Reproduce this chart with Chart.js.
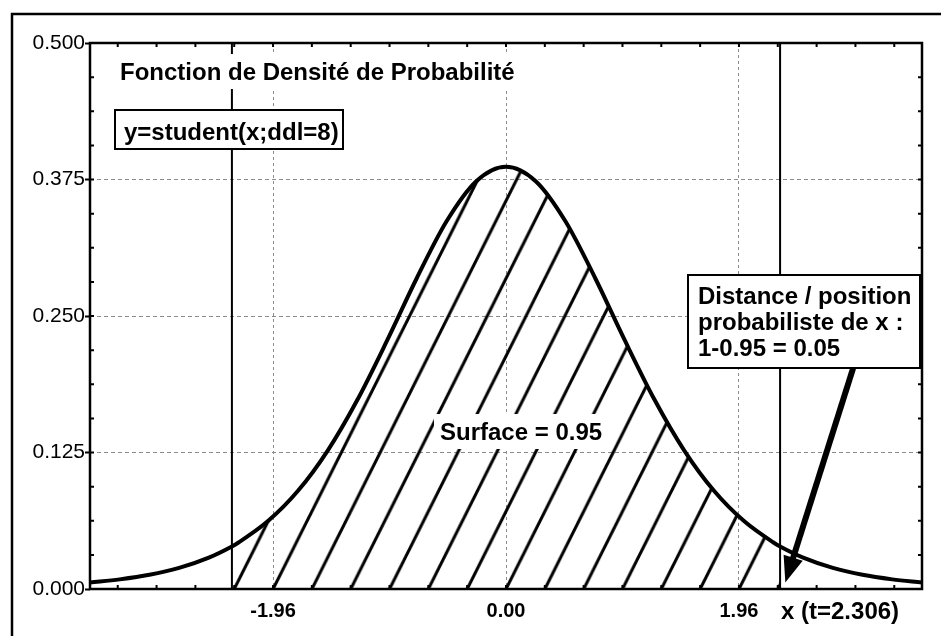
<!DOCTYPE html>
<html><head><meta charset="utf-8">
<script src="https://cdn.jsdelivr.net/npm/chart.js@4/dist/chart.umd.min.js"></script>
<style>html,body{margin:0;padding:0;background:#fff;}#wrap{width:941px;height:636px;}</style>
</head><body><div id="wrap"><canvas id="c" width="941" height="636"></canvas></div>
<script>
// ---- data ----
const curveX = [-3.5,-3.25,-3,-2.75,-2.5,-2.306,-2.25,-2,-1.75,-1.5,-1.25,-1,-0.75,-0.5,-0.25,0,0.25,0.5,0.75,1,1.25,1.5,1.75,2,2.25,2.306,2.5,2.75,3,3.25,3.5];
const curveY = [0.0059,0.0088,0.0130,0.0194,0.0288,0.0390,0.0426,0.0624,0.0899,0.1268,0.1733,0.2276,0.2848,0.3367,0.3734,0.3867,0.3734,0.3367,0.2848,0.2276,0.1733,0.1268,0.0899,0.0624,0.0426,0.0390,0.0288,0.0194,0.0130,0.0088,0.0059];
const criticalT = [-2.306, 2.306];
const xTickValues = [-1.96, 0, 1.96];
const yTickValues = [0, 0.125, 0.25, 0.375, 0.5];
const xRange = [-3.5, 3.5];
const yRange = [0, 0.5];
const arrowFrom = [2.92, 0.202];
const arrowTo = [2.35, 0.006];

const titleText = 'Fonction de Densité de Probabilité';
const formulaText = 'y=student(x;ddl=8)';
const surfaceText = 'Surface = 0.95';
const noteLines = ['Distance / position', 'probabiliste de x :', '1-0.95 = 0.05'];
const xAxisText = 'x (t=2.306)';

// ---- styling ----
const FONT = '"Liberation Sans", Arial, sans-serif';
const hatchStep = 1.96 / 6;
const xMinorStep = 1.96 / 6;
const yMinorStep = 0.125 / 4;

const pts = (xs, ys) => xs.map((v, i) => ({x: v, y: ys[i]}));
const curvePts = pts(curveX, curveY);
const hatchPts = curvePts.filter(p => p.x >= criticalT[0] - 1e-9 && p.x <= criticalT[1] + 1e-9);

function hatchPattern(chart) {
  const xs = chart.scales.x, ys = chart.scales.y;
  if (!chart.chartArea || !xs || !ys) return 'rgba(0,0,0,0)';
  const x0 = xs.getPixelForValue(0), y0 = ys.getPixelForValue(0);
  const sp = xs.getPixelForValue(hatchStep) - x0;
  if (!isFinite(sp) || sp <= 0) return 'rgba(0,0,0,0)';
  const W = 40, H = 80;
  const c = document.createElement('canvas'); c.width = W; c.height = H;
  const g = c.getContext('2d');
  g.strokeStyle = '#000'; g.lineWidth = 3.1;
  for (const k of [-1, 0, 1]) { g.beginPath(); g.moveTo(-2, H + k * H + 4); g.lineTo(W + 2, k * H - 4); g.stroke(); }
  const p = chart.ctx.createPattern(c, 'repeat');
  const s = sp / W;
  p.setTransform(new DOMMatrix().translate(x0, y0 - H * s).scale(s));
  return p;
}

function boxText(ctx, lines, x, y0, lh) {
  lines.forEach((t, i) => ctx.fillText(t, x, y0 + i * lh));
}

const decor = {
  id: 'decor',
  beforeDraw(chart) {
    const ctx = chart.ctx;
    ctx.save();
    ctx.fillStyle = '#fff'; ctx.fillRect(0, 0, chart.width, chart.height);
    ctx.strokeStyle = '#000'; ctx.lineWidth = 2.5;
    ctx.strokeRect(12, 14, chart.width + 40, chart.height + 40);
    ctx.restore();
  },
  afterDatasetsDraw(chart) {
    const {ctx, chartArea: a, scales: {x, y}} = chart;
    ctx.save();
    // minor inward ticks
    ctx.strokeStyle = '#000'; ctx.lineWidth = 2;
    ctx.beginPath();
    for (let k = 1; k * yMinorStep < yRange[1] - 1e-9; k++) {
      const py = y.getPixelForValue(k * yMinorStep);
      ctx.moveTo(a.left, py); ctx.lineTo(a.left + 4, py);
      ctx.moveTo(a.right, py); ctx.lineTo(a.right - 4, py);
    }
    for (let k = Math.ceil(xRange[0] / xMinorStep); k * xMinorStep <= xRange[1]; k++) {
      const px = x.getPixelForValue(k * xMinorStep);
      ctx.moveTo(px, a.top); ctx.lineTo(px, a.top + 4);
      ctx.moveTo(px, a.bottom); ctx.lineTo(px, a.bottom - 4);
    }
    ctx.stroke();
    // plot frame
    ctx.lineWidth = 2.5;
    ctx.strokeRect(a.left, a.top, a.right - a.left, a.bottom - a.top);

    // arrow
    const p1 = {x: x.getPixelForValue(arrowFrom[0]), y: y.getPixelForValue(arrowFrom[1])};
    const p2 = {x: x.getPixelForValue(arrowTo[0]), y: y.getPixelForValue(arrowTo[1])};
    const ang = Math.atan2(p2.y - p1.y, p2.x - p1.x);
    const hl = 26, hw = 10;
    const bx = p2.x - hl * Math.cos(ang), by = p2.y - hl * Math.sin(ang);
    ctx.lineWidth = 6; ctx.lineCap = 'butt';
    ctx.beginPath(); ctx.moveTo(p1.x, p1.y); ctx.lineTo(bx + 2 * Math.cos(ang), by + 2 * Math.sin(ang)); ctx.stroke();
    ctx.fillStyle = '#000';
    ctx.beginPath(); ctx.moveTo(p2.x, p2.y);
    ctx.lineTo(bx + hw * Math.sin(ang), by - hw * Math.cos(ang));
    ctx.lineTo(bx - hw * Math.sin(ang), by + hw * Math.cos(ang));
    ctx.closePath(); ctx.fill();

    ctx.font = 'bold 24px ' + FONT;
    ctx.textBaseline = 'alphabetic'; ctx.textAlign = 'left';

    // title (white background)
    const tw = ctx.measureText(titleText).width;
    ctx.fillStyle = '#fff'; ctx.fillRect(116, 54, tw + 8, 35);
    ctx.fillStyle = '#000'; ctx.fillText(titleText, 120, 80);

    // formula box
    ctx.fillStyle = '#fff'; ctx.fillRect(115, 110, 228, 39);
    ctx.strokeStyle = '#000'; ctx.lineWidth = 2; ctx.strokeRect(115, 110, 228, 39);
    ctx.fillStyle = '#000'; ctx.fillText(formulaText, 124, 140);

    // surface label
    const sw = ctx.measureText(surfaceText).width;
    ctx.fillStyle = '#fff'; ctx.fillRect(434, 414, sw + 12, 35);
    ctx.fillStyle = '#000'; ctx.fillText(surfaceText, 440, 440);

    // note box
    ctx.fillStyle = '#fff'; ctx.fillRect(688, 275, 232, 93);
    ctx.lineWidth = 2; ctx.strokeRect(688, 275, 232, 93);
    ctx.fillStyle = '#000'; boxText(ctx, noteLines, 698, 304, 26);

    // x axis text
    ctx.font = 'bold 24px ' + FONT;
    ctx.fillText(xAxisText, 781, 619);
    ctx.restore();
  }
};

const vline = (v) => ({
  data: [{x: v, y: yRange[0]}, {x: v, y: yRange[1]}],
  showLine: true, borderColor: '#000', borderWidth: 2, pointRadius: 0, fill: false, order: 1
});

new Chart(document.getElementById('c'), {
  type: 'scatter',
  data: {
    datasets: [
      {data: curvePts, showLine: true, borderColor: '#000', borderWidth: 4, pointRadius: 0,
       cubicInterpolationMode: 'monotone', fill: false, order: 0},
      vline(criticalT[0]), vline(criticalT[1]),
      {data: hatchPts, showLine: true, borderWidth: 0, borderColor: 'rgba(0,0,0,0)', pointRadius: 0,
       cubicInterpolationMode: 'monotone', fill: 'origin',
       backgroundColor: (c) => hatchPattern(c.chart), order: 2}
    ]
  },
  options: {
    responsive: false, animation: false, devicePixelRatio: 1, events: [],
    layout: {padding: {top: 43, right: 19, left: 0, bottom: 0}},
    plugins: {legend: {display: false}, tooltip: {enabled: false}},
    scales: {
      x: {
        type: 'linear', min: xRange[0], max: xRange[1],
        afterFit(s) { s.height = 47; },
        afterBuildTicks(s) { s.ticks = xTickValues.map(v => ({value: v})); },
        ticks: {callback: v => Number(v).toFixed(2), color: '#000', padding: 10, maxRotation: 0, autoSkip: false,
                font: {family: FONT, size: 20, weight: 'bold'}},
        grid: {color: '#8c8c8c', lineWidth: 1, drawTicks: false},
        border: {display: false, dash: [3, 3]}
      },
      y: {
        min: yRange[0], max: yRange[1],
        afterFit(s) { s.width = 90; },
        afterBuildTicks(s) { s.ticks = yTickValues.map(v => ({value: v})); },
        ticks: {callback: v => Number(v).toFixed(3), color: '#000', padding: 0,
                font: {family: FONT, size: 21}},
        grid: {color: (c) => (c.tick && (c.tick.value === yRange[0] || c.tick.value === yRange[1])) ? 'rgba(0,0,0,0)' : '#8c8c8c',
               lineWidth: 1, drawTicks: true, tickLength: 5, tickColor: '#000', tickWidth: 2},
        border: {display: false, dash: [4, 3]}
      }
    }
  },
  plugins: [decor]
});
</script>
</body></html>
